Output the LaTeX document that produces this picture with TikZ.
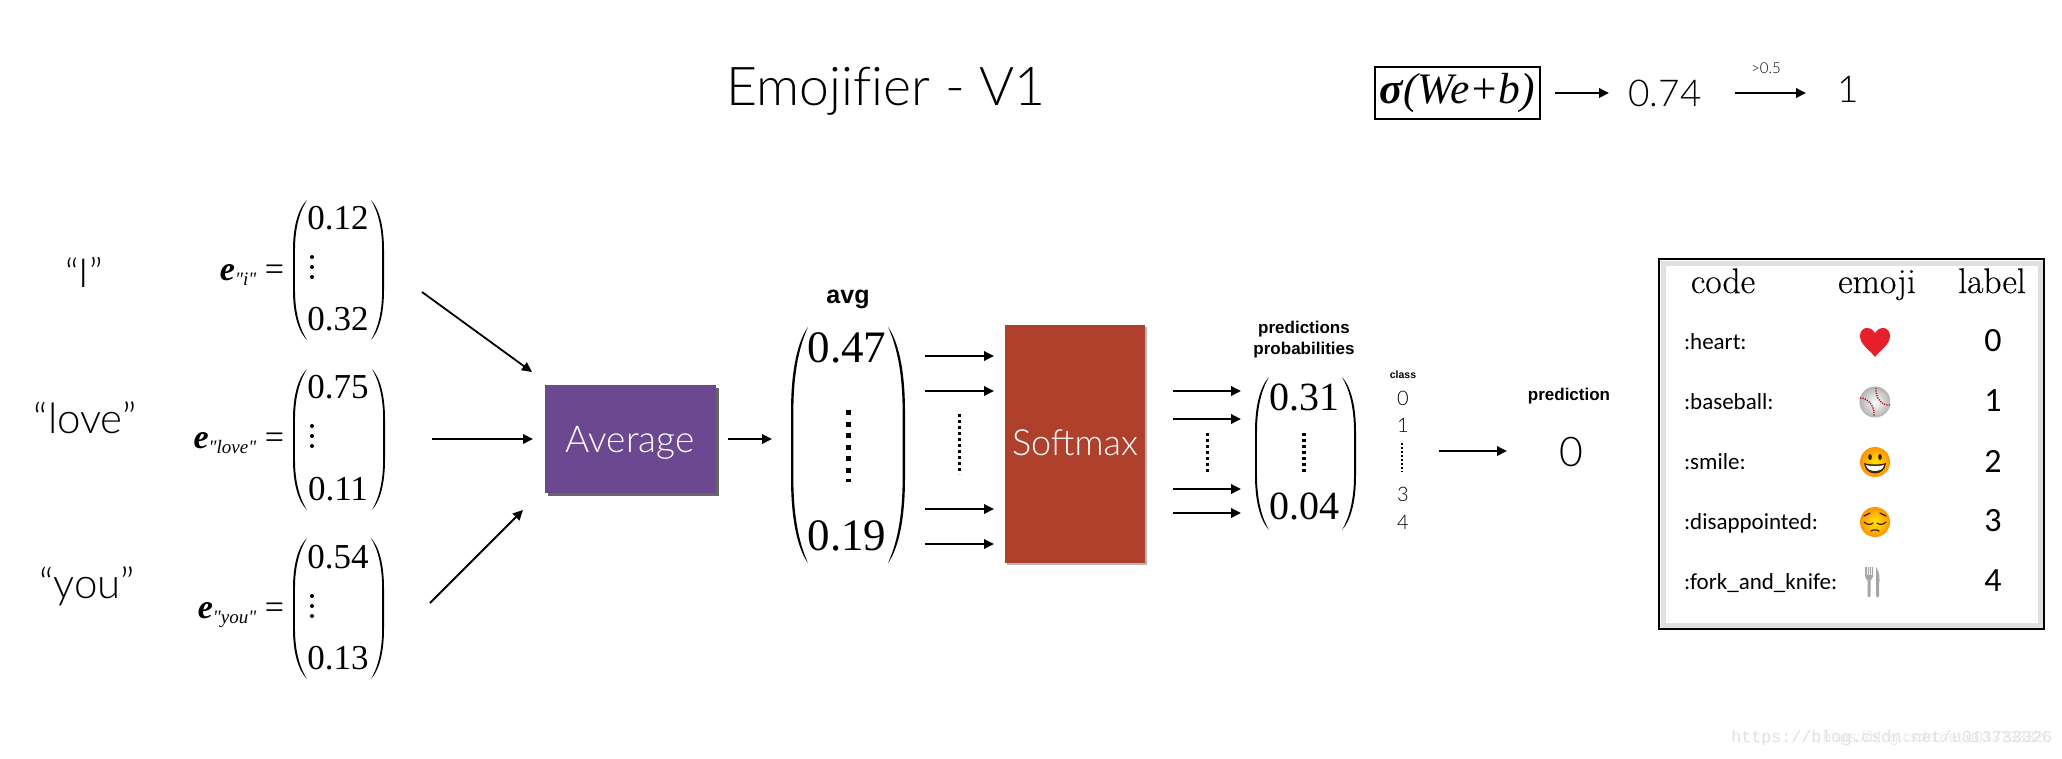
\documentclass[tikz,border=0pt]{standalone}
\usepackage{fontspec}
\usetikzlibrary{arrows.meta}
\newfontfamily\hl{Lato}[UprightFont=* Light]
\newfontfamily\hb{Liberation Sans}
\newfontfamily\ts{Liberation Serif}
\newfontfamily\cb{Carlito}
\newfontfamily\lm{Liberation Mono}
\newfontfamily\hd{Latin Modern Roman}[FakeBold=0.35]
\newcommand\fsz[1]{\fontsize{#1}{#1}\selectfont}
\newcommand\parenshape[4]{% belly x, signed width, top y, height
  \begin{scope}[shift={(#1,#3)},xscale=#2,yscale=#4]
    \fill[black] (1,0) .. controls (0.4,0.06) and (0,0.18) .. (0,0.36) -- (0,0.64)
      .. controls (0,0.82) and (0.4,0.94) .. (1,1)
      .. controls (0.55,0.93) and (0.14,0.82) .. (0.14,0.64) -- (0.14,0.36)
      .. controls (0.14,0.18) and (0.55,0.07) .. (1,0) -- cycle;
  \end{scope}}
\definecolor{avgc}{HTML}{6B488F}
\definecolor{softc}{HTML}{AF412C}
\definecolor{heartc}{HTML}{E5202B}
\tikzset{
  x=1pt,y=-1pt,
  every node/.style={inner sep=0pt,outer sep=0pt},
  lighttxt/.style={font=\hl\fsz{#1}},
  boldtxt/.style={font=\hb\bfseries\fsz{#1},anchor=base},
  serifnum/.style={font=\ts\fsz{#1}},
  flow/.style={line width=1.8pt,-{Triangle[length=10pt,width=9.5pt]}},
  dotsthin/.style={line width=3pt,dash pattern=on 3pt off 3pt},
  dotsbold/.style={line width=5pt,dash pattern=on 5pt off 6.5pt},
  codetxt/.style={font=\cb\fsz{23},anchor=base west},
  labeltxt/.style={font=\cb\fsz{34}},
  headtxt/.style={font=\hd\fsz{35.5},anchor=base},
}
\begin{document}
\begin{tikzpicture}
\useasboundingbox (0,0) rectangle (2062,758);
\fill[white] (0,0) rectangle (2062,758);

% title and top formula
\node[lighttxt=53.5,anchor=base] (title) at (886,105) {Emojif\kern0pt ier - V1};
\node[draw,line width=2pt,minimum width=165pt,minimum height=52pt,font=\ts\itshape\fsz{43.5}] (sig) at (1457.5,93) {{\bfseries σ}(\textit{We}+\textit{b})};
\coordinate (a1s) at (1555,93); \coordinate (a1e) at (1609,93);
\node[lighttxt=37] (v74) at (1665,93) {0.74};
\coordinate (a2s) at (1735,93); \coordinate (a2e) at (1806,93);
\node[lighttxt=15] (thr) at (1766,68) {>0.5};
\node[lighttxt=37] (one) at (1848,89) {1};
\draw[flow] (a1s) -- (a1e);
\draw[flow] (a2s) -- (a2e);

% words
\node[lighttxt=40,anchor=base] (wi) at (84,287) {“I”};
\node[lighttxt=42,anchor=base] (wl) at (85,433) {“love”};
\node[lighttxt=42,anchor=base] (wy) at (87,598) {“you”};

% embeddings
\node[font=\ts\fsz{34},anchor=base east] (e1) at (284,280) {\textbf{\textit{e}}{\fsz{19}\raisebox{-5pt}{\textit{"i"}}} =};
\node[font=\ts\fsz{34},anchor=base east] (e2) at (284,448) {\textbf{\textit{e}}{\fsz{19}\raisebox{-5pt}{\textit{"love"}}} =};
\node[font=\ts\fsz{34},anchor=base east] (e3) at (284,618) {\textbf{\textit{e}}{\fsz{19}\raisebox{-5pt}{\textit{"you"}}} =};

\parenshape{293}{14}{200}{140}\parenshape{384}{-13}{200}{140}
\parenshape{293}{14}{369}{141}\parenshape{385}{-13}{369}{141}
\parenshape{293}{14}{538}{141}\parenshape{384}{-13}{538}{141}

\node[serifnum=35] (m1a) at (338,218) {0.12};
\node[serifnum=35] (m1b) at (338,319) {0.32};
\node[serifnum=35] (m2a) at (338,387) {0.75};
\node[serifnum=35] (m2b) at (338,489) {0.11};
\node[serifnum=35] (m3a) at (338,557) {0.54};
\node[serifnum=35] (m3b) at (338,658) {0.13};
\foreach \yy in {257,267,277,426,436,446,596,606,616}
  \fill (312,\yy) circle (2pt);

% average block
\fill[black!60] (547.5,388) rectangle (719,496);
\node[fill=avgc,anchor=north west,minimum width=171.5pt,text height=67pt,text depth=41pt,text=white,lighttxt=37] (avgbox) at (544.5,385) {Average};
\coordinate (i1s) at (422,292); \coordinate (i1e) at (532,372);
\coordinate (i2s) at (432,439); \coordinate (i2e) at (533,439);
\coordinate (i3s) at (430,603); \coordinate (i3e) at (523,510);
\draw[flow] (i1s) -- (i1e);
\draw[flow] (i2s) -- (i2e);
\draw[flow] (i3s) -- (i3e);
\coordinate (o1s) at (728,439); \coordinate (o1e) at (772,439);
\draw[flow] (o1s) -- (o1e);

% avg vector
\node[boldtxt=25] (avglab) at (848,303) {avg};
\parenshape{791}{17}{327}{236}\parenshape{905}{-17}{327}{236}
\node[serifnum=45] (va) at (847,348) {0.47};
\node[serifnum=45] (vb) at (847,536) {0.19};
\coordinate (vd1) at (848,410); \coordinate (vd2) at (848,482);
\draw[dotsbold] (vd1) -- (vd2);

% arrows to softmax
\foreach \n/\yy in {1/356,2/391,3/509,4/544}{
  \coordinate (s\n s) at (925,\yy); \coordinate (s\n e) at (994,\yy);
  \draw[flow] (s\n s) -- (s\n e);
}
\coordinate (sd1) at (959,414); \coordinate (sd2) at (959,474);
\draw[dotsthin] (sd1) -- (sd2);

% softmax block
\fill[black!28] (1007,327) rectangle (1147,565);
\node[fill=softc,anchor=north west,minimum width=140pt,text height=130pt,text depth=108pt,text=white,lighttxt=36] (softbox) at (1005,325) {Softmax};

% arrows out of softmax
\foreach \n/\yy in {1/391,2/419,3/489,4/513}{
  \coordinate (p\n s) at (1173,\yy); \coordinate (p\n e) at (1241,\yy);
  \draw[flow] (p\n s) -- (p\n e);
}
\coordinate (pd1) at (1207,433); \coordinate (pd2) at (1207,474);
\draw[dotsthin] (pd1) -- (pd2);

% prediction probabilities
\node[boldtxt=17] (pl1) at (1304,333) {predictions};
\node[boldtxt=17] (pl2) at (1304,354) {probabilities};
\parenshape{1255}{14}{377}{153}\parenshape{1356}{-14}{377}{153}
\node[serifnum=40] (pa) at (1304,397) {0.31};
\node[serifnum=40] (pb) at (1304,506) {0.04};
\coordinate (qd1) at (1304,433); \coordinate (qd2) at (1304,474);
\draw[dotsthin,line width=3.5pt] (qd1) -- (qd2);

% classes
\node[boldtxt=10.5] (cl) at (1403,378) {class};
\node[lighttxt=20] (c0) at (1403,398) {0};
\node[lighttxt=20] (c1) at (1403,425) {1};
\node[lighttxt=20] (c3) at (1403,494) {3};
\node[lighttxt=20] (c4) at (1403,522) {4};
\coordinate (cd1) at (1402,443); \coordinate (cd2) at (1402,472);
\draw[line width=2pt,dash pattern=on 2pt off 2pt] (cd1) -- (cd2);
\coordinate (r1s) at (1439,451); \coordinate (r1e) at (1507,451);
\draw[flow] (r1s) -- (r1e);
\node[boldtxt=17] (predlab) at (1569,400) {prediction};
\node[lighttxt=41] (pred) at (1571,452) {0};

% table
\draw[black!12,line width=5pt] (1663,263) rectangle (2040,625);
\node[draw,line width=2.2pt,minimum width=385pt,minimum height=370pt] (tab) at (1851.5,444) {};
\node[headtxt] (hc) at (1723,293) {code};
\node[headtxt] (he) at (1877,293) {emoji};
\node[headtxt] (hl) at (1992,293) {label};
\node[codetxt] (r0) at (1684,349) {:heart:};
\node[codetxt] (r1) at (1684,409) {:baseball:};
\node[codetxt] (r2) at (1684,469) {:smile:};
\node[codetxt] (r3) at (1684,529) {:disappointed:};
\node[codetxt] (r4) at (1684,589) {:fork\_and\_knife:};
\node[labeltxt] (l0) at (1993,341) {0};
\node[labeltxt] (l1) at (1993,401) {1};
\node[labeltxt] (l2) at (1993,461) {2};
\node[labeltxt] (l3) at (1993,521) {3};
\node[labeltxt] (l4) at (1993,581) {4};

% heart
\begin{scope}[shift={(1875,342)}]
  \fill[heartc] (0,-9) .. controls (-5,-17) and (-15,-15) .. (-15,-6)
    .. controls (-15,3) and (-5,8) .. (0,15)
    .. controls (5,8) and (15,3) .. (15,-6)
    .. controls (15,-15) and (5,-17) .. (0,-9) -- cycle;
\end{scope}
% baseball
\begin{scope}[shift={(1875,402)}]
  \shade[inner color=white,outer color=black!30] (0,0) circle (15.5pt);
  \draw[red!70!black,line width=1.3pt,dash pattern=on 1.2pt off 1.2pt] (-15,-4) .. controls (-7,-4) and (0,4) .. (-1,14);
  \draw[red!70!black,line width=1.3pt,dash pattern=on 1.2pt off 1.2pt] (1,-14) .. controls (0,-4) and (7,4) .. (15,3);
\end{scope}
% smile
\begin{scope}[shift={(1875,462)}]
  \shade[inner color=yellow!80!orange,outer color=orange!85!yellow] (0,0) circle (15pt);
  \fill[black!75!brown] (-5,-5) ellipse (1.8pt and 3pt) (5,-5) ellipse (1.8pt and 3pt);
  \fill[black!70!brown] (-11,1) .. controls (-5,3) and (5,3) .. (11,1) .. controls (10,15) and (-10,15) .. (-11,1) -- cycle;
  \fill[white] (-9,3) .. controls (-5,4.5) and (5,4.5) .. (9,3) .. controls (8,11) and (-8,11) .. (-9,3) -- cycle;
\end{scope}
% disappointed
\begin{scope}[shift={(1875,522)}]
  \shade[inner color=yellow!80!orange,outer color=orange!85!yellow] (0,0) circle (15pt);
  \draw[black!75!brown,line width=1.2pt,line cap=round]
    (-11,-6) -- (-5,-9) (11,-6) -- (5,-9)
    (-11,0) .. controls (-8,3) and (-4,3) .. (-2,1)
    (11,0) .. controls (8,3) and (4,3) .. (2,1)
    (-4,9) .. controls (-2,7.5) and (2,7.5) .. (4,9);
\end{scope}
% fork and knife
\begin{scope}[shift={(1871,582)}]
  \fill[black!35] (-6,-15) -- (-6,-6) .. controls (-6,-3) and (-4,-2) .. (-3.5,-2) -- (-3.5,14) .. controls (-3.5,16) and (-0.5,16) .. (-0.5,14) -- (-0.5,-2) .. controls (0,-2) and (2,-3) .. (2,-6) -- (2,-15) -- (1,-15) -- (1,-7) -- (0,-7) -- (0,-15) -- (-1,-15) -- (-1,-7) -- (-2,-7) -- (-2,-15) -- (-3,-15) -- (-3,-7) -- (-4,-7) -- (-4,-15) -- cycle;
  \fill[black!35] (5,-15) .. controls (9,-10) and (9,-2) .. (8,2) -- (8,14) .. controls (8,16) and (5,16) .. (5,14) -- cycle;
\end{scope}

% watermark
\node[font=\lm\fsz{16.7},text=black!12,anchor=base east] (wm1) at (2052,742) {https://blog.csdn.net/u013733326};
\node[font=\hb\fsz{15.5},text=black!8,anchor=base east] (wm2) at (2052,742) {https://blog.csdn.net/u013733326};
\end{tikzpicture}
\end{document}
